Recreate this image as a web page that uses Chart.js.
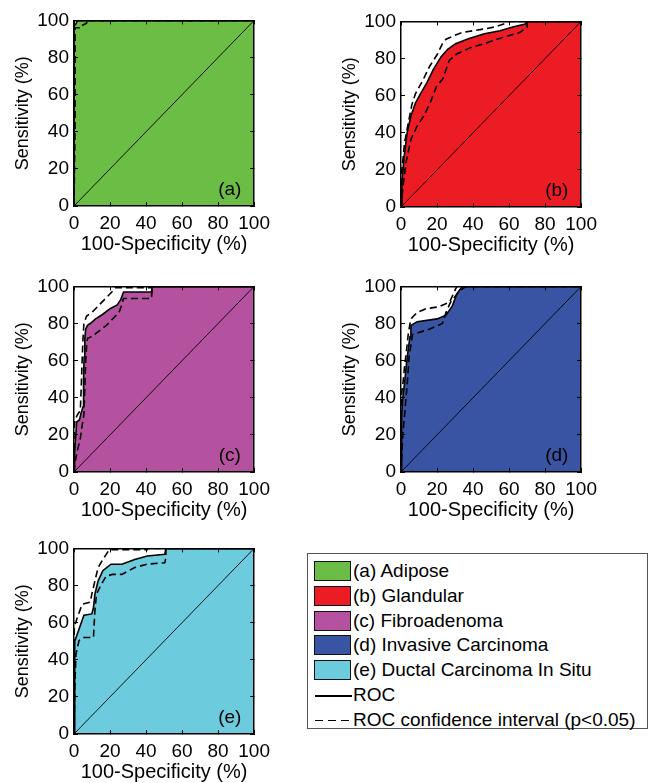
<!DOCTYPE html>
<html>
<head>
<meta charset="utf-8">
<script src="https://cdn.jsdelivr.net/npm/chart.js@4.4.1/dist/chart.umd.min.js"></script>
<style>
  body { margin: 0; background: #fff; width: 650px; height: 783px; position: relative; overflow: hidden;
         font-family: 'Liberation Sans', Arial, sans-serif; color: #000; }
  canvas { position: absolute; }
  #legend { position: absolute; left: 307px; top: 553px; width: 341px; height: 176px;
            border: 1px solid #555; box-sizing: border-box; background: #fff; }
  .row { position: absolute; left: 0; height: 22px; width: 100%; }
  .sw { position: absolute; left: 6px; top: 1px; width: 37px; height: 20px; box-sizing: border-box; border: 1.5px solid #111; }
  .ln { position: absolute; left: 7px; top: 11px; width: 37px; height: 1.5px; background: #000; }
  .ln.dash { background: repeating-linear-gradient(to right, #000 0 8px, transparent 8px 13px); }
  .tx { position: absolute; left: 45px; top: 0; font-size: 19px; line-height: 22px; white-space: nowrap; }
</style>
</head>
<body>
<canvas id="pa" width="280" height="256" style="left:0;top:0"></canvas>
<canvas id="pb" width="280" height="256" style="left:327px;top:1px"></canvas>
<canvas id="pc" width="280" height="256" style="left:0;top:266px"></canvas>
<canvas id="pd" width="280" height="256" style="left:327px;top:266px"></canvas>
<canvas id="pe" width="280" height="256" style="left:0;top:528px"></canvas>
<div id="legend"></div>
<script>
'use strict';

// * Axis ticks (percent)
const tickValues = [0, 20, 40, 60, 80, 100];

// * Panels and their tissue classes
const panelTags = ['(a)', '(b)', '(c)', '(d)', '(e)'];
const tissueNames = ['Adipose', 'Glandular', 'Fibroadenoma', 'Invasive Carcinoma', 'Ductal Carcinoma In Situ'];
const fillColors = ['#6cbd45', '#ec1c24', '#b5529f', '#3a54a4', '#6ccbdc'];

// * [100-specificity, sensitivity] pairs
const diagonal = [[0, 0], [100, 100]];

const rocA = [[0, 0], [0, 97], [1, 98], [2, 100], [100, 100]];
const upperA = [[0, 0], [0, 99], [1, 99], [1, 100], [100, 100]];
const lowerA = [[0, 0], [0.6, 44], [0.6, 96], [4, 96], [4, 97], [7, 98.5], [7, 100], [100, 100]];

const rocB = [[0, 0], [0.5, 13], [1.6, 26], [3.4, 40], [5.5, 49], [8, 56], [10.8, 61], [14.4, 67], [17.9, 74],
  [22.3, 81], [25.9, 85], [30.3, 88], [37.4, 90.6], [46.3, 93.3], [55, 95], [62, 97], [69, 98.6], [70, 100], [100, 100]];
const upperB = [[0, 0], [0.3, 12], [0.5, 20], [2, 35], [4, 45], [6, 55], [8, 61], [12, 68], [16, 76], [20, 82],
  [23, 88], [25, 90.4], [30, 92.5], [34, 94], [46, 95.9], [52, 97], [57, 98.6], [59.6, 100], [100, 100]];
const lowerB = [[0, 0], [1, 10], [2.8, 24], [5.5, 36.5], [9, 43.6], [12.6, 49], [16.1, 56], [19.7, 65], [23.2, 69],
  [26.8, 79], [31.2, 82.6], [39, 86], [46.3, 88], [56.9, 91.5], [65.8, 94], [70, 96.8], [70, 100], [100, 100]];

const rocC = [[0, 0], [0.3, 10], [1, 20], [1.5, 27], [3, 28], [4, 32], [5, 35], [5.3, 50], [5.6, 62], [6, 72],
  [6.5, 77], [7.5, 79], [9, 80], [12, 82.5], [16, 85], [20, 88], [24, 90], [26, 93], [27.5, 97], [43, 97], [43.5, 100], [100, 100]];
const upperC = [[0, 0], [0, 20], [0.5, 28], [2, 31], [3.5, 33], [4, 45], [4.5, 60], [5, 72], [5.5, 80], [7, 84],
  [10, 86], [14, 90], [18, 94], [21, 97], [23, 99.3], [43, 99.3], [43.5, 100], [100, 100]];
const lowerC = [[0, 0], [0.5, 5], [2, 12], [3.5, 18], [4.5, 25], [5.5, 31], [6, 45], [6.5, 60], [7, 68], [7.5, 72],
  [10, 73], [14, 76], [18, 79], [22, 83], [25, 86], [26.5, 90], [27.5, 93.5], [43, 93.5], [43.5, 100], [100, 100]];

const rocD = [[0, 0], [0.2, 15], [0.5, 30], [1, 40], [2, 48], [3, 58], [4, 66], [5, 73], [5.5, 79], [9, 81],
  [20, 82.5], [25, 84.5], [28.5, 89.5], [31, 96], [34, 100], [100, 100]];
const upperD = [[0, 0], [0, 25], [0.3, 42], [1, 47], [2, 57], [3, 65], [4, 74], [5, 80], [6, 83], [9, 86],
  [14, 88], [21, 89], [27, 91.5], [29.5, 97], [31, 100], [100, 100]];
const lowerD = [[0, 0], [0.5, 10], [1, 20], [2, 31], [3.5, 48], [4.5, 62], [6.4, 74], [11, 75.5], [16, 77],
  [23, 80], [25, 86], [27.5, 91.5], [32, 97], [36, 100], [100, 100]];

const rocE = [[0, 0], [0.3, 40], [0.5, 50], [1.9, 54], [3.7, 59], [5.5, 64], [9.9, 64.7], [10.8, 68], [11.6, 75.4],
  [13.4, 82.5], [16, 88], [20.5, 91.5], [26.6, 91.5], [33.7, 94], [40.7, 95.9], [50.4, 96.8], [51, 100], [100, 100]];
const upperE = [[0, 0], [0, 45], [0.2, 57.6], [1.9, 63], [4.6, 70], [9, 71], [9.9, 75.4], [11.6, 82.5], [13.4, 89.7],
  [16, 94], [19.6, 99.3], [40.7, 99.3], [41, 100], [100, 100]];
const lowerE = [[0, 0], [0.3, 15], [0.5, 27], [1.1, 43], [2.8, 50.4], [5.5, 52], [10.8, 52], [11.6, 66.5], [12.5, 75.4],
  [15.2, 80.7], [17.8, 85], [21.3, 86], [26.6, 86], [33.7, 89.7], [40.7, 91.5], [50.4, 92.3], [51, 95], [51, 100], [100, 100]];

const rocCurves = [rocA, rocB, rocC, rocD, rocE];
const upperCurves = [upperA, upperB, upperC, upperD, upperE];
const lowerCurves = [lowerA, lowerB, lowerC, lowerD, lowerE];
const canvasIds = ['pa', 'pb', 'pc', 'pd', 'pe'];

const FONT = "'Liberation Sans', Arial, sans-serif";
Chart.defaults.font.family = FONT;
Chart.defaults.color = '#000';

const toPts = (arr) => arr.map(([x, y]) => ({ x, y }));

// * Draws the (a)...(e) tag in the lower right of each plot.
const panelTag = {
  id: 'panelTag',
  afterDatasetsDraw(chart, args, opts) {
    const { ctx, scales: { x, y } } = chart;
    ctx.save();
    ctx.font = `19px ${FONT}`;
    ctx.fillStyle = '#000';
    ctx.textAlign = 'center';
    ctx.textBaseline = 'middle';
    ctx.fillText(opts.text, x.getPixelForValue(86.5), y.getPixelForValue(8.5));
    ctx.restore();
  },
};

const frameAxis = (position, extra) => Object.assign({
  type: 'linear',
  position,
  min: 0,
  max: 100,
  ticks: { display: false, stepSize: 20 },
  grid: { drawOnChartArea: false, drawTicks: true, tickLength: -4, color: '#000', z: 1 },
  border: { display: true, color: '#000', width: 1.5, z: 1 },
}, extra);

function makePanel(i) {
  const dashed = { borderColor: '#000', borderWidth: 1.6, borderDash: [7, 4], fill: false, order: 1 };
  return new Chart(document.getElementById(canvasIds[i]), {
    type: 'scatter',
    data: {
      datasets: [
        Object.assign({ data: toPts(upperCurves[i]) }, dashed),
        Object.assign({ data: toPts(lowerCurves[i]) }, dashed),
        { data: toPts(diagonal), borderColor: '#000', borderWidth: 0.9, fill: false, order: 2 },
        { data: toPts(rocCurves[i]), borderColor: '#000', borderWidth: 1.6, backgroundColor: fillColors[i], fill: 'origin', order: 3 },
      ],
    },
    options: {
      responsive: false,
      animation: false,
      showLine: true,
      layout: { padding: { top: 17, right: 18, left: 0, bottom: 0 } },
      elements: { point: { radius: 0 }, line: { tension: 0 } },
      plugins: { legend: { display: false }, tooltip: { enabled: false }, panelTag: { text: panelTags[i] } },
      scales: {
        x: frameAxis('bottom', {
          ticks: { stepSize: 20, padding: 10, font: { size: 19 }, maxRotation: 0, callback: (v) => (tickValues.includes(v) ? v : '') },
          title: { display: true, text: '100-Specificity (%)', font: { size: 20 }, padding: { top: 0, bottom: 0 } },
          afterFit: (s) => { s.height = 50; },
        }),
        y: frameAxis('left', {
          ticks: { stepSize: 20, padding: 9, font: { size: 19 }, callback: (v) => (tickValues.includes(v) ? v : '') },
          title: { display: true, text: 'Sensitivity (%)', font: { size: 18 }, padding: { top: 12, bottom: 0 } },
          afterFit: (s) => { s.width = 74; },
        }),
        x2: frameAxis('top', { axis: 'x', afterFit: (s) => { s.height = 0; } }),
        y2: frameAxis('right', { axis: 'y', afterFit: (s) => { s.width = 0; } }),
      },
    },
    plugins: [panelTag],
  });
}

function buildLegend() {
  const box = document.getElementById('legend');
  const entries = tissueNames.map((name, i) => ({ kind: 'sw', color: fillColors[i], text: `${panelTags[i]} ${name}` }));
  entries.push({ kind: 'ln', text: 'ROC' });
  entries.push({ kind: 'ln dash', text: 'ROC confidence interval (p<0.05)' });
  entries.forEach((e, i) => {
    const row = document.createElement('div');
    row.className = 'row';
    row.style.top = `${6 + i * 24.8}px`;
    const mark = document.createElement('div');
    mark.className = e.kind;
    if (e.color) mark.style.background = e.color;
    const tx = document.createElement('div');
    tx.className = 'tx';
    tx.textContent = e.text;
    row.appendChild(mark);
    row.appendChild(tx);
    box.appendChild(row);
  });
}

window.addEventListener('load', () => {
  panelTags.forEach((t, i) => makePanel(i));
  buildLegend();
});
</script>
</body>
</html>
